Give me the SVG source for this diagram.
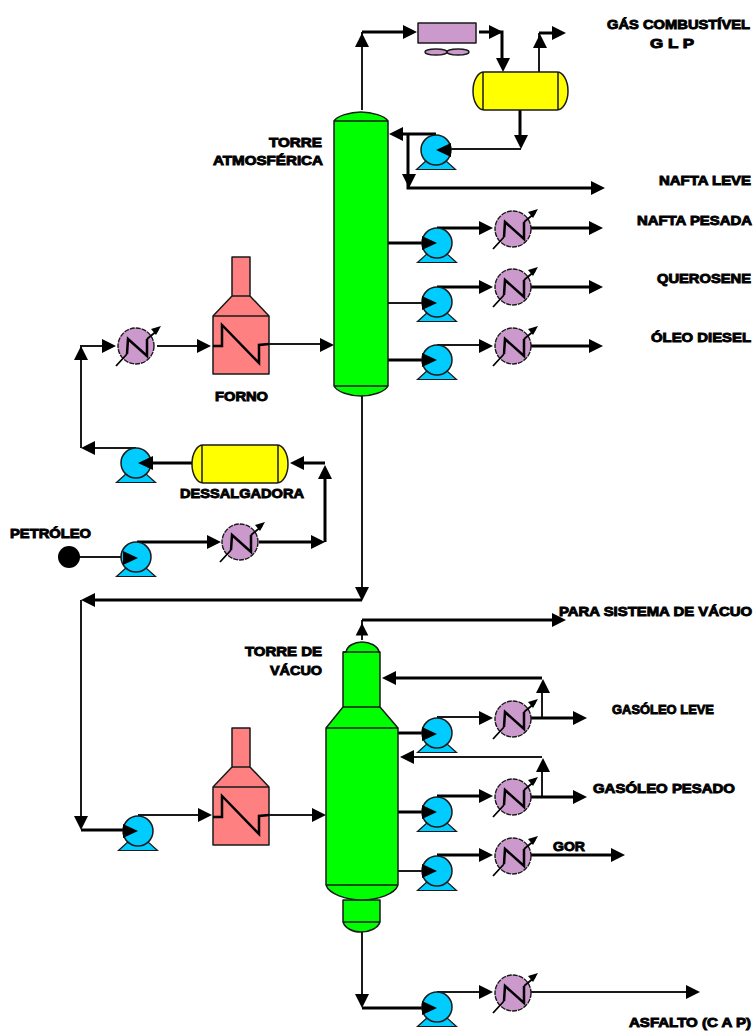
<svg xmlns="http://www.w3.org/2000/svg" xmlns:xlink="http://www.w3.org/1999/xlink" width="753" height="1031" viewBox="0 0 753 1031">
<style>
.e{stroke:#1a1a1a;stroke-width:1.5;stroke-linejoin:round}
.g{fill:#00ff00}.y{fill:#ffff00}.v{fill:#cc99cc}.r{fill:#ff8080}.b{fill:#00ccff}
.l{fill:none;stroke:#1a1a1a;stroke-width:2}
.t{fill:none;stroke:#000;stroke-width:3}
.c{fill:none;stroke:#000;stroke-width:2.5;stroke-linejoin:miter}
text{font-family:"Liberation Sans",Arial,sans-serif;font-weight:bold;font-size:13px;fill:#000;stroke:#000;stroke-width:.9}
</style>
<defs>
<polygon id="a" points="0,0 -14,-7 -14,7" fill="#000"/>
<polygon id="m" points="0,0 -15,-7 -15,7" fill="#000"/>
<g id="pump">
<path class="b" stroke="#1a1a1a" stroke-width="1.2" d="M-9,10 L-19.500,19.500 H19.500 L9,10 Z"/>
<circle class="e b" r="15"/>
</g>
<g id="hx">
<circle class="v" r="18" stroke="#1a1a1a" stroke-width="1.4" stroke-dasharray="5 1"/>
<path d="M-20,20 L-9,8 M11,-7 L22,-16" fill="none" stroke="#000" stroke-width="1.8"/>
<path class="c" d="M-9,8 L-8,-7 L11,10 L11,-7"/>
<polygon points="25,-20 15,-17 20,-11" fill="#000"/>
</g>
<g id="furnace">
<path class="e r" d="M19,0 H37 V39 L56,59 V117 H0 V59 L19,39 Z"/>
<path class="e" fill="none" d="M0,59 H56 M19,39 H37"/>
<path class="c" d="M0,89 H9 V68 L46,106 L46,88 L56,87"/>
</g>
</defs>

<g id="connectors">
<path class="l" d="M362,110 V32"/><path class="t" d="M362,32 H405"/>
<use href="#a" transform="translate(362,33) rotate(-90)"/><use href="#a" transform="translate(417,32)"/>
<path class="t" d="M479,32 H502 V60"/>
<use href="#a" transform="translate(503,32)"/><use href="#a" transform="translate(503,72) rotate(90)"/>
<path class="l" d="M539,72 V33"/><path class="t" d="M539,33 H555"/>
<use href="#a" transform="translate(540,34) rotate(-90)"/><use href="#a" transform="translate(566,33)"/>
<path class="t" d="M520,110 V138"/><path class="l" d="M521,149 H450"/>
<use href="#a" transform="translate(521,149) rotate(90)"/>
<path class="t" d="M436,134 H400 M408,134 V188 H595"/>
<use href="#a" transform="translate(389,134) rotate(180)"/><use href="#a" transform="translate(409,188) rotate(90)"/><use href="#a" transform="translate(605,188)"/>

<path class="t" d="M388,243 H425 M437,228 H485 M531,228 H595"/>
<use href="#a" transform="translate(493,228)"/><use href="#a" transform="translate(603,228)"/>
<path class="l" d="M388,303 H425"/><path class="t" d="M437,287 H485 M531,287 H595"/>
<use href="#a" transform="translate(493,287)"/><use href="#a" transform="translate(603,287)"/>
<path class="t" d="M388,360 H425 M531,346 H595"/><path class="l" d="M437,345 H485"/>
<use href="#a" transform="translate(493,346)"/><use href="#a" transform="translate(603,346)"/>

<path class="l" d="M269,344 H325"/><use href="#a" transform="translate(334,345)"/>
<path class="l" d="M157,346 H205"/><use href="#a" transform="translate(211,346)"/>
<path class="l" d="M81,448 V346 H105"/><use href="#a" transform="translate(81,346) rotate(-90)"/><use href="#a" transform="translate(116,346)"/>
<path class="l" d="M136,448 H90"/><use href="#a" transform="translate(81,448) rotate(180)"/>
<path class="t" d="M192,463 H150"/>
<path class="t" d="M325,463 H300 M325,542 V470 M259,542 H320"/>
<use href="#a" transform="translate(290,463) rotate(180)"/><use href="#a" transform="translate(325,465) rotate(-90)"/><use href="#a" transform="translate(325,542)"/>
<path class="t" d="M137,542 H210"/><use href="#a" transform="translate(221,542)"/>
<path class="l" d="M69,557 H125"/>

<path class="l" d="M362,396 V590"/><use href="#a" transform="translate(362,601) rotate(90)"/>
<path class="t" d="M362,600 H90"/><use href="#a" transform="translate(81,600) rotate(180)"/>
<path class="l" d="M81,600 V820"/><use href="#a" transform="translate(81,830) rotate(90)"/>
<path class="t" d="M81,830 H125"/>
<path class="l" d="M138,815 H205 M269,815 H318"/><use href="#a" transform="translate(212,815)"/><use href="#a" transform="translate(326,815)"/>

<path class="l" d="M362,640 V620"/><path class="t" d="M362,620 H556"/>
<use href="#a" transform="translate(362,623) rotate(-90) scale(.9)"/><use href="#a" transform="translate(566,620)"/>
<path class="t" d="M542,678 H390"/><use href="#a" transform="translate(382,678) rotate(180)"/>
<path class="l" d="M542,717 V690"/><use href="#a" transform="translate(543,679) rotate(-90)"/>
<path class="t" d="M531,718 H578"/><use href="#a" transform="translate(587,718)"/>
<path class="t" d="M398,733 H425"/><path class="l" d="M437,717 H485"/><use href="#a" transform="translate(493,718)"/>
<path class="l" d="M542,757 H405"/><use href="#a" transform="translate(400,757) rotate(180)"/>
<path class="l" d="M542,796 V770"/><use href="#a" transform="translate(543,758) rotate(-90)"/>
<path class="t" d="M531,797 H578"/><use href="#a" transform="translate(587,797)"/>
<path class="t" d="M398,812 H425 M437,796 H485"/><use href="#a" transform="translate(493,796)"/>
<path class="l" d="M398,871 H425"/><path class="t" d="M437,855 H485 M531,855 H615"/>
<use href="#a" transform="translate(493,855)"/><use href="#a" transform="translate(625,855)"/>
<path class="l" d="M362,932 V998"/><use href="#a" transform="translate(362,1008) rotate(90)"/>
<path class="t" d="M362,1008 H425"/>
<path class="l" d="M437,992 H485 M531,992 H690"/><use href="#a" transform="translate(493,992)"/><use href="#a" transform="translate(700,992)"/>
</g>

<g id="torre-atmosferica">
<path class="e g" d="M334,121 C337,116 350,112 361,112 C372,112 385,116 388,121 V386 C385,392 372,396 361,396 C350,396 337,392 334,386 Z"/>
<path class="e" fill="none" d="M334,121 H388 M334,386 H388"/>
</g>
<g id="torre-vacuo">
<path class="e g" d="M343,900 H380 V922 C378,928 370,932 361,932 C352,932 345,928 343,922 Z"/>
<path class="e" fill="none" d="M343,922 H380"/>
<path class="e g" d="M346,652 C347,646 354,642 362,642 C370,642 378,646 379,652 H380 V707 L398,728 V885 C395,894 378,900 362,900 C346,900 329,894 326,885 V728 L343,707 V652 Z"/>
<path class="e" fill="none" d="M343,652 H380 M343,707 H380 M326,728 H398 M326,885 H398"/>
</g>
<g id="condensador">
<rect class="e v" x="418" y="23" width="58" height="20"/>
<ellipse class="e v" cx="436" cy="52" rx="11" ry="3"/><ellipse class="e v" cx="458" cy="52" rx="11" ry="3"/>
</g>
<g id="vaso">
<rect class="e y" x="473" y="72" width="95" height="38" rx="11" ry="19"/>
<path class="e" fill="none" d="M483,72 V110 M558,72 V110"/>
</g>
<g id="dessalgadora">
<rect class="e y" x="192" y="445" width="96" height="38" rx="11" ry="19"/>
<path class="e" fill="none" d="M202,445 V483 M278,445 V483"/>
</g>
<g id="forno"><use href="#furnace" transform="translate(213,257)"/></g>
<g id="forno-vacuo"><use href="#furnace" transform="translate(213,728)"/></g>

<g id="pumps">
<use href="#pump" transform="translate(436,150)"/><use href="#m" transform="translate(436,150) rotate(180)"/>
<use href="#pump" transform="translate(437,243)"/><use href="#m" transform="translate(437,243)"/>
<use href="#pump" transform="translate(437,302)"/><use href="#m" transform="translate(437,303)"/>
<use href="#pump" transform="translate(437,360)"/><use href="#m" transform="translate(437,360)"/>
<use href="#pump" transform="translate(136,463)"/><use href="#m" transform="translate(138,463) rotate(180)"/>
<use href="#pump" transform="translate(136,557)"/><use href="#m" transform="translate(138,558)"/>
<use href="#pump" transform="translate(138,831)"/><use href="#m" transform="translate(138,831)"/>
<use href="#pump" transform="translate(437,733)"/><use href="#m" transform="translate(437,734)"/>
<use href="#pump" transform="translate(437,812)"/><use href="#m" transform="translate(437,812)"/>
<use href="#pump" transform="translate(437,871)"/><use href="#m" transform="translate(437,871)"/>
<use href="#pump" transform="translate(437,1007)"/><use href="#m" transform="translate(437,1008)"/>
</g>
<g id="trocadores">
<use href="#hx" transform="translate(513,229)"/><use href="#hx" transform="translate(513,287)"/><use href="#hx" transform="translate(513,346)"/>
<use href="#hx" transform="translate(136,346)"/><use href="#hx" transform="translate(240,542)"/>
<use href="#hx" transform="translate(513,719)"/><use href="#hx" transform="translate(513,797)"/><use href="#hx" transform="translate(513,856)"/><use href="#hx" transform="translate(513,993)"/>
</g>
<g id="petroleo"><circle cx="69" cy="557" r="11" fill="#000"/></g>

<g id="labels">
<text x="607" y="29" textLength="143" lengthAdjust="spacingAndGlyphs">GÁS COMBUSTÍVEL</text>
<text x="650" y="48" textLength="44" lengthAdjust="spacingAndGlyphs">G L P</text>
<text x="269" y="147" textLength="53" lengthAdjust="spacingAndGlyphs">TORRE</text>
<text x="213" y="165" textLength="110" lengthAdjust="spacingAndGlyphs">ATMOSFÉRICA</text>
<text x="659" y="185" textLength="92" lengthAdjust="spacingAndGlyphs">NAFTA LEVE</text>
<text x="637" y="225" textLength="115" lengthAdjust="spacingAndGlyphs">NAFTA PESADA</text>
<text x="657" y="283" textLength="94" lengthAdjust="spacingAndGlyphs">QUEROSENE</text>
<text x="651" y="342" textLength="100" lengthAdjust="spacingAndGlyphs">ÓLEO DIESEL</text>
<text x="215" y="401" textLength="53" lengthAdjust="spacingAndGlyphs">FORNO</text>
<text x="180" y="498" textLength="124" lengthAdjust="spacingAndGlyphs">DESSALGADORA</text>
<text x="10" y="538" textLength="81" lengthAdjust="spacingAndGlyphs">PETRÓLEO</text>
<text x="559" y="616" textLength="193" lengthAdjust="spacingAndGlyphs">PARA SISTEMA DE VÁCUO</text>
<text x="245" y="656" textLength="77" lengthAdjust="spacingAndGlyphs">TORRE DE</text>
<text x="270" y="675" textLength="52" lengthAdjust="spacingAndGlyphs">VÁCUO</text>
<text x="612" y="714" textLength="102" lengthAdjust="spacingAndGlyphs">GASÓLEO LEVE</text>
<text x="593" y="793" textLength="142" lengthAdjust="spacingAndGlyphs">GASÓLEO PESADO</text>
<text x="553" y="851" textLength="32" lengthAdjust="spacingAndGlyphs">GOR</text>
<text x="629" y="1027" textLength="122" lengthAdjust="spacingAndGlyphs">ASFALTO (C A P)</text>
</g>
</svg>
